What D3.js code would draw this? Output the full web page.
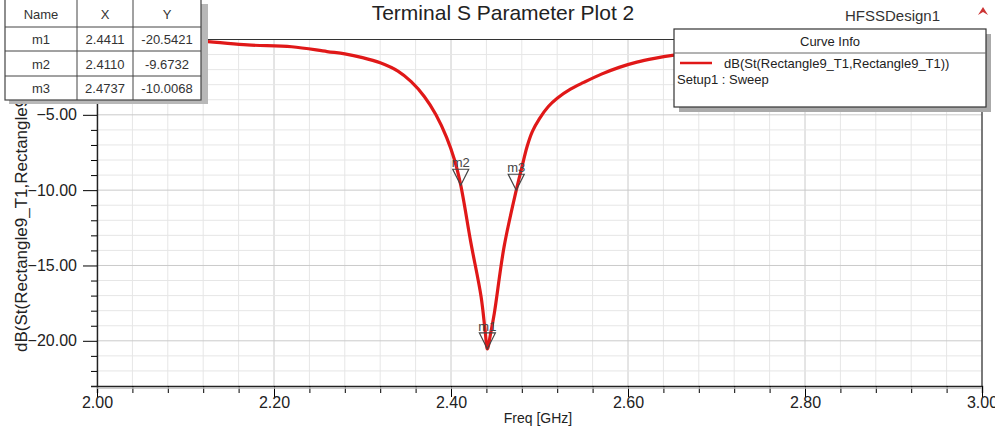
<!DOCTYPE html>
<html>
<head>
<meta charset="utf-8">
<script src="https://cdn.jsdelivr.net/npm/d3@7"></script>
<style>
  body { margin: 0; background: #fff; }
  svg { display: block; font-family: "Liberation Sans", Arial, sans-serif; }
</style>
</head>
<body>
<div id="chart"></div>
<script>
// curve (GHz, dB)
var freqGHz = [2.00, 2.06, 2.12, 2.17, 2.22, 2.26, 2.28, 2.30, 2.32, 2.34, 2.355, 2.37, 2.383, 2.395,
  2.404, 2.411, 2.4225, 2.434, 2.4385, 2.4411, 2.4445, 2.449, 2.460, 2.4737, 2.48, 2.486, 2.492,
  2.50, 2.51, 2.52, 2.535, 2.55, 2.57, 2.59, 2.61, 2.63, 2.65, 2.70, 2.80, 2.90, 3.00];
var s11dB = [-0.05, -0.08, -0.13, -0.36, -0.48, -0.8, -0.95, -1.2, -1.55, -2.1, -2.8, -3.8, -5.0, -6.5,
  -8.0, -9.67, -13.5, -17.07, -19.3, -20.54, -19.6, -18.15, -13.75, -10.01, -8.5, -7.1, -6.1,
  -5.25, -4.45, -3.9, -3.3, -2.85, -2.3, -1.85, -1.5, -1.25, -1.05, -0.7, -0.4, -0.25, -0.2];

// marker table
var markerNames = ["m1", "m2", "m3"];
var markerX = [2.4411, 2.4110, 2.4737];
var markerY = [-20.5421, -9.6732, -10.0068];
var markerXText = ["2.4411", "2.4110", "2.4737"];
var markerYText = ["-20.5421", "-9.6732", "-10.0068"];

var xTickLabels = [2.00, 2.20, 2.40, 2.60, 2.80, 3.00];
var yTickLabels = [-5, -10, -15, -20];

var width = 995, height = 432;
// plot box (window.top is reserved, so these get their own names)
var plotLeft = 97, plotRight = 982, plotTop = 39.5, plotBottom = 386;

var svg = d3.select("#chart").append("svg")
  .attr("width", width)
  .attr("height", height);

svg.append("rect").attr("width", width).attr("height", height).attr("fill", "#fff");

var xScale = d3.scaleLinear().domain([2.0, 3.0]).range([plotLeft, plotRight]);
var yScale = d3.scaleLinear().domain([-23, 0]).range([plotBottom, plotTop]);

// grid lines, every minor step
var xGrid = d3.range(0, 26).map(function(i) { return 2.0 + i * 0.04; });
var yGrid = d3.range(-22, 0);
var grid = svg.append("g");
grid.selectAll("line.vx").data(xGrid).enter().append("line")
  .attr("x1", function(d) { return xScale(d); })
  .attr("x2", function(d) { return xScale(d); })
  .attr("y1", plotTop).attr("y2", plotBottom)
  .attr("stroke", function(d, i) { return i % 5 === 0 ? "#cacaca" : "#e6e6e6"; })
  .attr("stroke-width", 1);
grid.selectAll("line.hy").data(yGrid).enter().append("line")
  .attr("y1", function(d) { return yScale(d); })
  .attr("y2", function(d) { return yScale(d); })
  .attr("x1", plotLeft).attr("x2", plotRight)
  .attr("stroke", function(d) { return d % 5 === 0 ? "#cacaca" : "#e6e6e6"; })
  .attr("stroke-width", 1);

// frame
svg.append("line").attr("x1", plotLeft).attr("x2", plotRight).attr("y1", plotTop).attr("y2", plotTop)
  .attr("stroke", "#333").attr("stroke-width", 1.2);
svg.append("line").attr("x1", plotRight).attr("x2", plotRight).attr("y1", plotTop).attr("y2", plotBottom)
  .attr("stroke", "#333").attr("stroke-width", 1.2);

// axes
var xAxis = d3.axisBottom(xScale)
  .tickValues(xGrid)
  .tickSizeOuter(0)
  .tickSize(7)
  .tickFormat(function(d) {
    var hit = xTickLabels.some(function(v) { return Math.abs(v - d) < 1e-6; });
    return hit ? d3.format(".2f")(d) : "";
  });
var gx = svg.append("g").attr("transform", "translate(0," + plotBottom + ")").call(xAxis);
gx.selectAll(".tick line")
  .attr("y2", function(d, i) { return i % 5 === 0 ? 11 : 7; });
gx.selectAll("text").attr("font-size", 16).attr("fill", "#222").attr("dy", "0.75em")
  .style("font-family", "'Liberation Sans', Arial, sans-serif");
gx.select(".domain").attr("stroke", "#222").attr("stroke-width", 1.4);
svg.append("line").attr("x1", plotLeft).attr("x2", plotRight).attr("y1", plotBottom + 2).attr("y2", plotBottom + 2)
  .attr("stroke", "#bbb").attr("stroke-width", 1.5);

var yAxis = d3.axisLeft(yScale)
  .tickValues(d3.range(-22, 1))
  .tickSizeOuter(0)
  .tickSize(6)
  .tickFormat(function(d) { return yTickLabels.indexOf(d) >= 0 ? d3.format(".2f")(d) : ""; });
var gy = svg.append("g").attr("transform", "translate(" + plotLeft + ",0)").call(yAxis);
gy.selectAll(".tick line")
  .attr("x2", function(d) { return d % 5 === 0 ? -14 : -6; });
gy.selectAll("text").attr("font-size", 16).attr("fill", "#222").attr("x", -20)
  .style("font-family", "'Liberation Sans', Arial, sans-serif");
gy.select(".domain").attr("stroke", "#222").attr("stroke-width", 1.4);

svg.append("text")
  .attr("x", 538).attr("y", 423)
  .attr("text-anchor", "middle")
  .attr("font-size", 14).attr("fill", "#222")
  .text("Freq [GHz]");

svg.append("text")
  .attr("transform", "translate(27,352) rotate(-90)")
  .attr("font-size", 17).attr("fill", "#222")
  .text("dB(St(Rectangle9_T1,Rectangle9_T1))");

// the curve
var points = freqGHz.map(function(f, i) { return [f, s11dB[i]]; });
var line = d3.line()
  .x(function(d) { return xScale(d[0]); })
  .y(function(d) { return yScale(d[1]); })
  .curve(d3.curveCatmullRom.alpha(0.5));
svg.append("path")
  .datum(points)
  .attr("d", line)
  .attr("fill", "none")
  .attr("stroke", "#e01818")
  .attr("stroke-width", 3.2)
  .attr("stroke-linejoin", "round");

// markers
var mk = svg.selectAll("g.marker").data(markerNames).enter().append("g")
  .attr("transform", function(d, i) {
    return "translate(" + xScale(markerX[i]) + "," + yScale(markerY[i]) + ")";
  });
mk.append("path")
  .attr("d", "M0,0 L-8,-16 L8,-16 Z")
  .attr("fill", "none")
  .attr("stroke", "#444")
  .attr("stroke-width", 1.2);
mk.append("text")
  .attr("y", -18)
  .attr("text-anchor", "middle")
  .attr("font-size", 13).attr("fill", "#444")
  .text(function(d) { return d; });

// title
svg.append("text")
  .attr("x", 503).attr("y", 20)
  .attr("text-anchor", "middle")
  .attr("font-size", 21).attr("fill", "#222")
  .text("Terminal S Parameter Plot 2");
svg.append("text")
  .attr("x", 845).attr("y", 21)
  .attr("font-size", 15).attr("fill", "#333")
  .text("HFSSDesign1");
svg.append("path")
  .attr("d", "M978,15 L983,7 L988,15 L983,12 Z")
  .attr("fill", "#c33");

// legend box
var lg = svg.append("g").attr("transform", "translate(674,29)");
lg.append("rect").attr("x", 5).attr("y", 5).attr("width", 312).attr("height", 78).attr("fill", "#aaa");
lg.append("rect").attr("width", 312).attr("height", 78)
  .attr("fill", "#fff").attr("stroke", "#333").attr("stroke-width", 1.2);
lg.append("text").attr("x", 156).attr("y", 17).attr("text-anchor", "middle")
  .attr("font-size", 13).attr("fill", "#222").text("Curve Info");
lg.append("line").attr("x1", 0).attr("x2", 312).attr("y1", 24).attr("y2", 24)
  .attr("stroke", "#666").attr("stroke-width", 1);
lg.append("line").attr("x1", 6).attr("x2", 38).attr("y1", 34).attr("y2", 34)
  .attr("stroke", "#e01818").attr("stroke-width", 2.5);
lg.append("text").attr("x", 50).attr("y", 39)
  .attr("font-size", 13).attr("fill", "#222").text("dB(St(Rectangle9_T1,Rectangle9_T1))");
lg.append("text").attr("x", 3).attr("y", 55)
  .attr("font-size", 13).attr("fill", "#222").text("Setup1 : Sweep");

// marker table
var cols = [5, 77, 133, 201];
var rowY = [0, 27, 51, 76, 100];
var tb = svg.append("g");
tb.append("rect").attr("x", 9).attr("y", 4).attr("width", 199).attr("height", 100).attr("fill", "#b8b8b8");
tb.append("rect").attr("x", cols[0]).attr("y", -1).attr("width", cols[3] - cols[0]).attr("height", rowY[4] + 1)
  .attr("fill", "#fff").attr("stroke", "#444").attr("stroke-width", 1.2);
rowY.slice(1, 4).forEach(function(y) {
  tb.append("line").attr("x1", cols[0]).attr("x2", cols[3]).attr("y1", y).attr("y2", y)
    .attr("stroke", "#444").attr("stroke-width", 1);
});
cols.slice(1, 3).forEach(function(x) {
  tb.append("line").attr("x1", x).attr("x2", x).attr("y1", 0).attr("y2", rowY[4])
    .attr("stroke", "#444").attr("stroke-width", 1);
});
var header = ["Name", "X", "Y"];
header.forEach(function(h, c) {
  tb.append("text").attr("x", (cols[c] + cols[c + 1]) / 2).attr("y", 19)
    .attr("text-anchor", "middle").attr("font-size", 13).attr("fill", "#333").text(h);
});
markerNames.forEach(function(n, r) {
  var cy = (rowY[r + 1] + rowY[r + 2]) / 2 + 5;
  [n, markerXText[r], markerYText[r]].forEach(function(v, c) {
    tb.append("text").attr("x", (cols[c] + cols[c + 1]) / 2).attr("y", cy)
      .attr("text-anchor", "middle").attr("font-size", 13).attr("fill", "#333").text(v);
  });
});
</script>
</body>
</html>
